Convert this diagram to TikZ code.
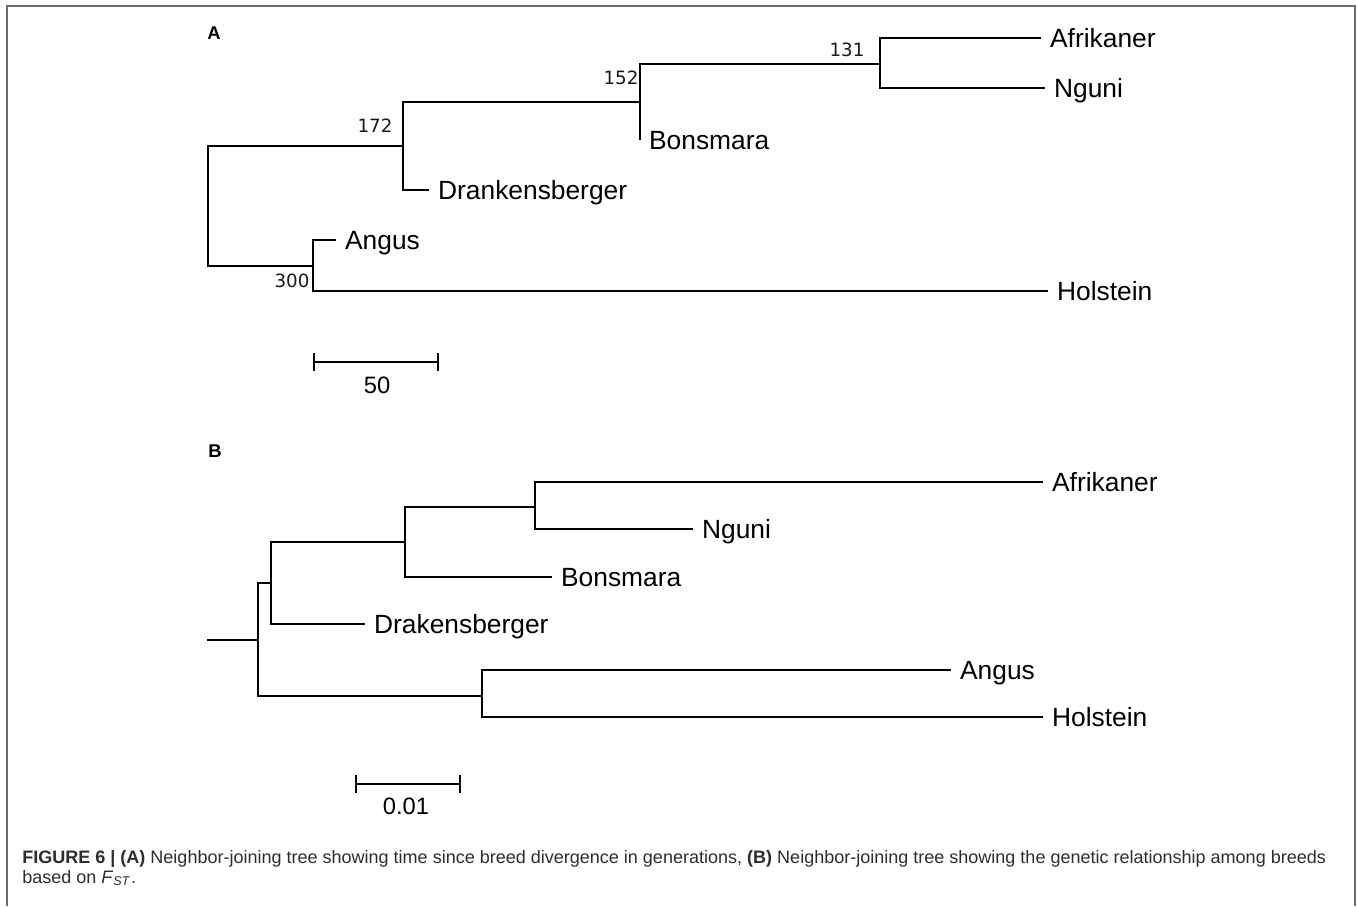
\documentclass[tikz,border=0pt]{standalone}
\usepackage{fontspec}
\setmainfont{Liberation Sans}
\newfontfamily\supportfamily{DejaVu Sans}
\usetikzlibrary{arrows.meta}
\pgfdeclarelayer{nodelayer}
\pgfdeclarelayer{edgelayer}
\pgfsetlayers{edgelayer,nodelayer,main}
\definecolor{framegray}{RGB}{110,110,110}
\definecolor{captiongray}{RGB}{45,45,45}
\tikzstyle{none}=[inner sep=0pt, minimum size=0pt]
\tikzstyle{leaf}=[anchor=west, inner xsep=5pt, inner ysep=0pt, text height=10.7pt, text depth=0pt, font=\fontsize{15}{18}\selectfont]
\tikzstyle{support}=[inner sep=0pt, text=black!90, font=\supportfamily\fontsize{10.4}{12}\selectfont]
\tikzstyle{panel}=[inner sep=0pt, font=\bfseries\fontsize{10.5}{12}\selectfont]
\tikzstyle{unit}=[inner sep=0pt, font=\fontsize{13.5}{16}\selectfont]
\tikzstyle{caption}=[anchor=base west, inner sep=0pt, align=left, text=captiongray, font=\fontsize{10.25}{11.34}\selectfont]
\tikzstyle{branch}=[line width=1.2pt]
\tikzstyle{scale bar}=[{Bar[width=10pt]}-{Bar[width=10pt]}, line width=1.2pt]
\tikzstyle{frame}=[draw=framegray, line width=1.2pt]

\begin{document}
\begin{tikzpicture}
	\useasboundingbox (0, 0) rectangle (27.14, -18.12);
	\begin{pgfonlayer}{nodelayer}
		% panel A
		\node [style=panel] (0) at (4.28, -0.66) {A};
		\node [style=none] (1) at (4.16, -4.12) {};
		\node [style=none] (2) at (8.06, -2.92) {};
		\node [style=none] (3) at (12.80, -2.04) {};
		\node [style=none] (4) at (17.60, -1.28) {};
		\node [style=none] (5) at (6.26, -5.32) {};
		\node [style=leaf] (6) at (20.82, -0.76) {Afrikaner};
		\node [style=leaf] (7) at (20.90, -1.76) {Nguni};
		\node [style=leaf] (8) at (12.80, -2.80) {Bonsmara};
		\node [style=leaf] (9) at (8.58, -3.80) {Drankensberger};
		\node [style=leaf] (10) at (6.72, -4.80) {Angus};
		\node [style=leaf] (11) at (20.96, -5.82) {Holstein};
		\node [style=support] (12) at (16.94, -1.00) {131};
		\node [style=support] (13) at (12.42, -1.56) {152};
		\node [style=support] (14) at (7.50, -2.52) {172};
		\node [style=support] (15) at (5.84, -5.62) {300};
		\node [style=none] (16) at (6.26, -7.24) {};
		\node [style=none] (17) at (8.78, -7.24) {};
		\node [style=unit] (18) at (7.54, -7.70) {50};
		% panel B
		\node [style=panel] (19) at (4.30, -9.02) {B};
		\node [style=none] (20) at (4.14, -12.80) {};
		\node [style=none] (21) at (5.16, -12.80) {};
		\node [style=none] (22) at (5.42, -11.66) {};
		\node [style=none] (23) at (8.10, -10.84) {};
		\node [style=none] (24) at (10.70, -10.14) {};
		\node [style=none] (25) at (9.64, -13.92) {};
		\node [style=leaf] (26) at (20.86, -9.64) {Afrikaner};
		\node [style=leaf] (27) at (13.86, -10.58) {Nguni};
		\node [style=leaf] (28) at (11.04, -11.54) {Bonsmara};
		\node [style=leaf] (29) at (7.30, -12.48) {Drakensberger};
		\node [style=leaf] (30) at (19.02, -13.40) {Angus};
		\node [style=leaf] (31) at (20.86, -14.34) {Holstein};
		\node [style=none] (32) at (7.10, -15.68) {};
		\node [style=none] (33) at (9.22, -15.68) {};
		\node [style=unit] (34) at (8.12, -16.12) {0.01};
		% caption and frame
		\node [style=caption] (35) at (0.44, -17.66) {\textbf{FIGURE 6 | (A)} Neighbor-joining tree showing time since breed divergence in generations, \textbf{(B)} Neighbor-joining tree showing the genetic relationship among breeds\\based on \textit{F}\textsubscript{\textit{ST}}.};
		\node [style=none] (36) at (0.14, -18.12) {};
		\node [style=none] (37) at (0.14, -0.12) {};
		\node [style=none] (38) at (27.10, -0.12) {};
		\node [style=none] (39) at (27.10, -18.12) {};
	\end{pgfonlayer}
	\begin{pgfonlayer}{edgelayer}
		\draw [style=frame] (36.center) -- (37.center) -- (38.center) -- (39.center);
		\draw [style=branch] (1.center) |- (2.center);
		\draw [style=branch] (1.center) |- (5.center);
		\draw [style=branch] (2.center) |- (3.center);
		\draw [style=branch] (2.center) |- (9);
		\draw [style=branch] (3.center) |- (4.center);
		\draw [style=branch] (3.center) |- (8);
		\draw [style=branch] (4.center) |- (6);
		\draw [style=branch] (4.center) |- (7);
		\draw [style=branch] (5.center) |- (10);
		\draw [style=branch] (5.center) |- (11);
		\draw [style=scale bar] (16.center) to (17.center);
		\draw [style=branch] (20.center) to (21.center);
		\draw [style=branch] (21.center) |- (22.center);
		\draw [style=branch] (21.center) |- (25.center);
		\draw [style=branch] (22.center) |- (23.center);
		\draw [style=branch] (22.center) |- (29);
		\draw [style=branch] (23.center) |- (24.center);
		\draw [style=branch] (23.center) |- (28);
		\draw [style=branch] (24.center) |- (26);
		\draw [style=branch] (24.center) |- (27);
		\draw [style=branch] (25.center) |- (30);
		\draw [style=branch] (25.center) |- (31);
		\draw [style=scale bar] (32.center) to (33.center);
	\end{pgfonlayer}
\end{tikzpicture}
\end{document}
